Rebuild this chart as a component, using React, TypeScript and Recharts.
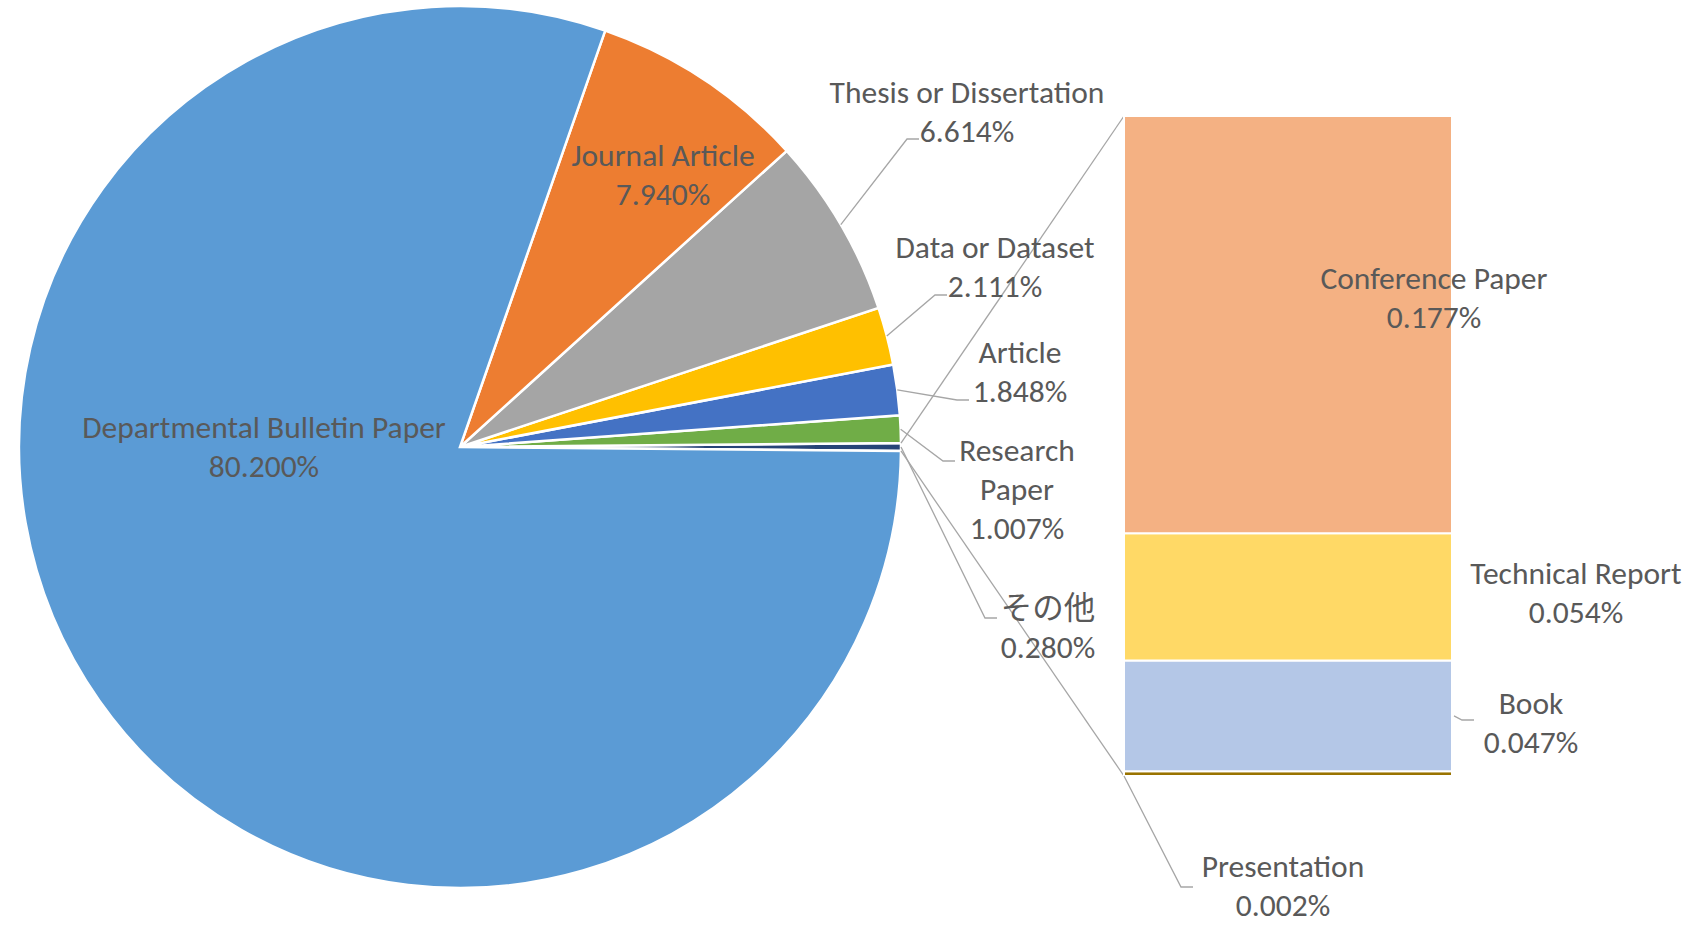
import React from 'react';
import { PieChart, Pie, Cell, BarChart, Bar, XAxis, YAxis, LabelList } from 'recharts';

// pie slices, counter-clockwise from 3 o'clock (the "other" slice sits centred on the right)
const PIE_NAMES = ['その他', 'Research Paper', 'Article', 'Data or Dataset', 'Thesis or Dissertation', 'Journal Article', 'Departmental Bulletin Paper'];
const PIE_VALUES = [0.28, 1.007, 1.848, 2.111, 6.614, 7.94, 80.2];
const PIE_COLORS = ['#264478', '#70AD47', '#4472C4', '#FFC000', '#A5A5A5', '#ED7D31', '#5B9BD5'];

// breakdown of "その他", bottom to top
const BAR_NAMES = ['Presentation', 'Book', 'Technical Report', 'Conference Paper'];
const BAR_VALUES = [0.002, 0.047, 0.054, 0.177];
const BAR_COLORS = ['#997300', '#B4C7E7', '#FFD966', '#F4B183'];

const W = 1704;
const H = 925;
const CX = 460;
const CY = 447;
const R = 441;
const BAR_LEFT = 1124;
const BAR_RIGHT = 1452;
const BAR_TOP = 116;
const BAR_BOTTOM = 776;

const FONT = "Carlito, Calibri, Lato, 'Noto Sans CJK JP', sans-serif";
const FONT_SIZE = 31.5;
const LINE = 39;
const TEXT = '#595959';
const LEADER = '#A6A6A6';
const RADIAN = Math.PI / 180;

// label placement: centre of first text line, optional leader elbow
const PIE_LABELS: Record<string, { x: number; y: number; lines: string[]; elbow?: [number, number] }> = {
  'Departmental Bulletin Paper': { x: 264, y: 427, lines: ['Departmental Bulletin Paper'] },
  'Journal Article': { x: 663, y: 155, lines: ['Journal Article'] },
  'Thesis or Dissertation': { x: 967, y: 92, lines: ['Thesis or Dissertation'], elbow: [907, 139] },
  'Data or Dataset': { x: 995, y: 247, lines: ['Data or Dataset'], elbow: [935, 295] },
  Article: { x: 1020, y: 352, lines: ['Article'], elbow: [957, 400] },
  'Research Paper': { x: 1017, y: 450, lines: ['Research', 'Paper'], elbow: [943, 461] },
  'その他': { x: 1048, y: 608, lines: ['その他'], elbow: [985, 618] },
};

const BAR_LABELS: Record<string, { x: number; y: number; elbow?: [number, number] }> = {
  'Conference Paper': { x: 1434, y: 278 },
  'Technical Report': { x: 1576, y: 573 },
  Book: { x: 1531, y: 703, elbow: [1462, 720] },
  Presentation: { x: 1283, y: 866, elbow: [1181, 887] },
};

const pieData = PIE_NAMES.map((name, i) => ({ name, value: PIE_VALUES[i] }));
const barRow: Record<string, any> = { name: 'その他' };
BAR_NAMES.forEach((n, i) => (barRow[n] = BAR_VALUES[i]));
const barData = [barRow];
const barTotal = BAR_VALUES.reduce((a, b) => a + b, 0);
const otherAngle = (PIE_VALUES[0] / PIE_VALUES.reduce((a, b) => a + b, 0)) * 360;

const pct = (v: number) => `${v.toFixed(3)}%`;

const edge = (cx: number, cy: number, r: number, a: number) => [cx + r * Math.cos(-a * RADIAN), cy + r * Math.sin(-a * RADIAN)];

const TextBlock = ({ x, y, lines }: { x: number; y: number; lines: string[] }) => (
  <g>
    {lines.map((l, i) => (
      <text key={i} x={x} y={y + i * LINE} textAnchor="middle" dominantBaseline="central" fill={TEXT} fontSize={FONT_SIZE} fontFamily={FONT}>
        {l}
      </text>
    ))}
  </g>
);

const renderPieLabel = (props: any) => {
  const { cx, cy, outerRadius, midAngle, startAngle, endAngle, index } = props;
  const name = PIE_NAMES[index];
  const cfg = PIE_LABELS[name];
  if (!cfg) return null;
  const [sx, sy] = edge(cx, cy, outerRadius, midAngle);
  return (
    <g>
      {cfg.elbow && (
        <polyline
          points={`${sx},${sy} ${cfg.elbow[0]},${cfg.elbow[1]} ${cfg.elbow[0] + 12},${cfg.elbow[1]}`}
          fill="none"
          stroke={LEADER}
          strokeWidth={1.3}
        />
      )}
      {index === 0 && (
        <g>
          {/* connectors to the bar of the "other" slice */}
          {(() => {
            const [tx, ty] = edge(cx, cy, outerRadius, Math.max(startAngle, endAngle));
            const [bx, by] = edge(cx, cy, outerRadius, Math.min(startAngle, endAngle));
            return (
              <g>
                <line x1={tx} y1={ty} x2={BAR_LEFT} y2={BAR_TOP} stroke={LEADER} strokeWidth={1.3} />
                <line x1={bx} y1={by} x2={BAR_LEFT} y2={BAR_BOTTOM} stroke={LEADER} strokeWidth={1.3} />
              </g>
            );
          })()}
        </g>
      )}
      <TextBlock x={cfg.x} y={cfg.y} lines={[...cfg.lines, pct(PIE_VALUES[index])]} />
    </g>
  );
};

const makeBarLabel = (name: string) => (props: any) => {
  const { x, y, width, height, value } = props;
  const cfg = BAR_LABELS[name];
  let leader = null;
  if (cfg.elbow) {
    const sx = name === 'Presentation' ? x : x + width + 2;
    const sy = name === 'Presentation' ? y + height : y + height / 2;
    leader = (
      <polyline
        points={`${sx},${sy} ${cfg.elbow[0]},${cfg.elbow[1]} ${cfg.elbow[0] + 12},${cfg.elbow[1]}`}
        fill="none"
        stroke={LEADER}
        strokeWidth={1.3}
      />
    );
  }
  return (
    <g>
      {leader}
      <TextBlock x={cfg.x} y={cfg.y} lines={[name, pct(Number(value))]} />
    </g>
  );
};

export default function App() {
  return (
    <div style={{ position: 'absolute', left: 0, top: 0, width: W, height: H, background: '#fff' }}>
      <div style={{ position: 'absolute', left: 0, top: 0 }}>
        <PieChart width={W} height={H} margin={{ top: 0, right: 0, bottom: 0, left: 0 }}>
          <Pie
            data={pieData}
            dataKey="value"
            nameKey="name"
            cx={CX}
            cy={CY}
            outerRadius={R}
            startAngle={-otherAngle / 2}
            endAngle={360 - otherAngle / 2}
            stroke="#fff"
            strokeWidth={2.5}
            label={renderPieLabel}
            labelLine={false}
            isAnimationActive={false}
          >
            {pieData.map((d, i) => (
              <Cell key={d.name} fill={PIE_COLORS[i]} />
            ))}
          </Pie>
        </PieChart>
      </div>
      <div style={{ position: 'absolute', left: 0, top: 0 }}>
        <BarChart
          width={W}
          height={H}
          data={barData}
          barCategoryGap={0}
          margin={{ top: BAR_TOP, bottom: H - BAR_BOTTOM, left: BAR_LEFT, right: W - BAR_RIGHT }}
        >
          <XAxis dataKey="name" hide />
          <YAxis type="number" domain={[0, barTotal]} hide />
          {BAR_NAMES.map((n, i) => (
            <Bar key={n} dataKey={n} stackId="a" fill={BAR_COLORS[i]} stroke="#fff" strokeWidth={2} isAnimationActive={false}>
              <LabelList dataKey={n} content={makeBarLabel(n)} />
            </Bar>
          ))}
        </BarChart>
      </div>
    </div>
  );
}
